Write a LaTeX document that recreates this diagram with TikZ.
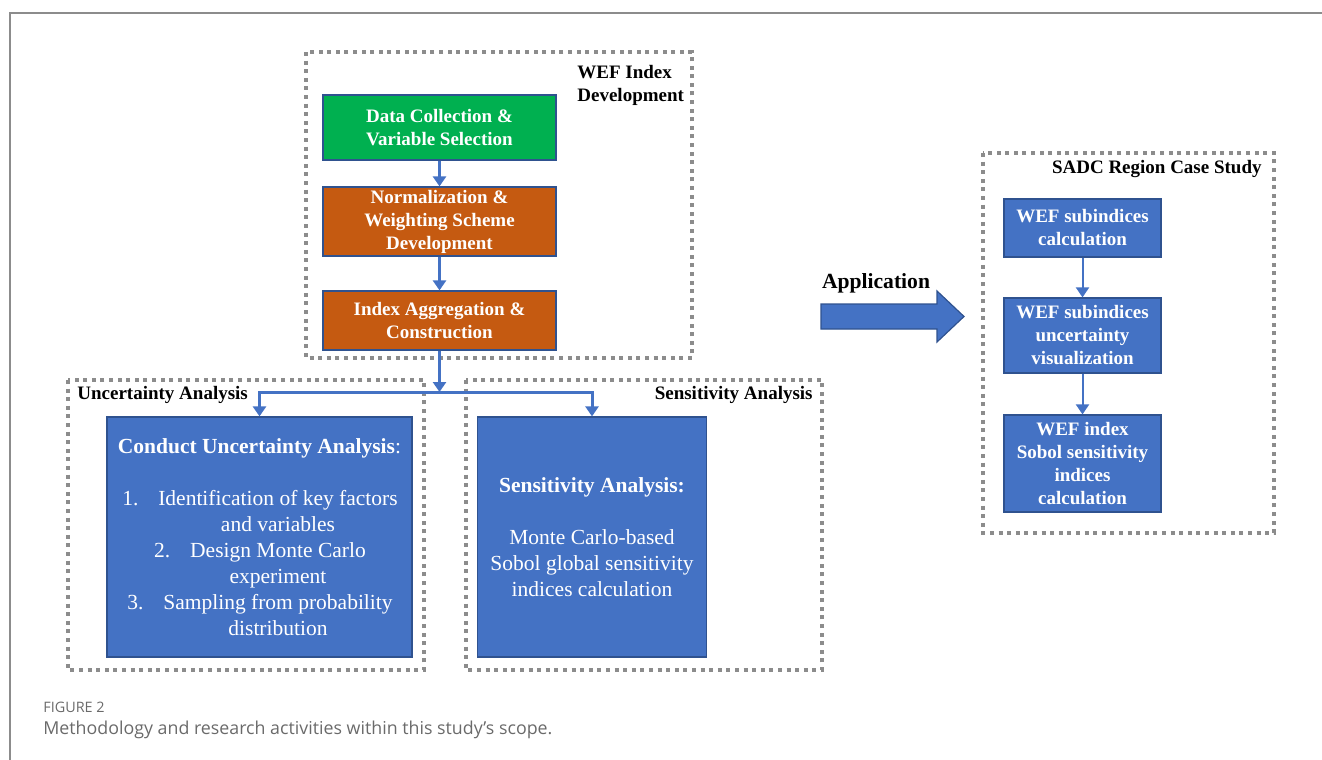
\documentclass[tikz,border=0pt]{standalone}
\usepackage{fontspec}
\setmainfont{Liberation Serif}
\newfontfamily\captionfont{Open Sans}
\usetikzlibrary{arrows.meta,positioning}

\definecolor{boxblue}{HTML}{4472C4}
\definecolor{boxgreen}{HTML}{00B050}
\definecolor{boxorange}{HTML}{C55A11}
\definecolor{edgeblue}{HTML}{2F528F}
\definecolor{dotgray}{HTML}{8C8C8C}
\definecolor{capgray}{HTML}{6A6A6A}

% numbered line with the number hanging to the left
\newcommand{\numitem}[1]{\hspace*{18.5pt}\llap{\makebox[18pt][l]{#1}}}
\newcommand{\numcont}{\hspace*{18.5pt}}

\tikzset{
  stepbox/.style={draw=edgeblue, line width=0.6pt, text=white, inner sep=0pt,
    align=center, font=\fontsize{9.5}{11.5}\selectfont\bfseries},
  groupbox/.style={draw=dotgray, line width=1.7pt, dash pattern=on 2pt off 2.3pt},
  grouptitle/.style={inner sep=0pt, font=\fontsize{9.5}{11.5}\selectfont\bfseries},
  flow/.style={draw=boxblue, line width=1.5pt, -{Triangle[width=6.5pt,length=5pt]}}
}

\begin{document}
\begin{tikzpicture}[x=0.5pt, y=-0.5pt]
  \useasboundingbox (0,0) rectangle (1322,760);

  % Page frame
  \draw[gray!90, line width=1pt] (10,760) -- (10,13) -- (1322,13);

  % WEF index development
  \draw[groupbox] (306,52) rectangle (692,358);
  \node[grouptitle, anchor=west, align=left] (weftitle) at (577,85.5) {WEF Index\\Development};
  \node[stepbox, fill=boxgreen, minimum width=116.5pt, minimum height=32.5pt] (data) at (439.5,127.5)
    {Data Collection \&\\Variable Selection};
  \node[stepbox, fill=boxorange, minimum width=116.5pt, minimum height=34.5pt] (norm) at (439.5,221.5)
    {Normalization \&\\Weighting Scheme\\Development};
  \node[stepbox, fill=boxorange, minimum width=116.5pt, minimum height=29.5pt] (agg) at (439.5,320.5)
    {Index Aggregation \&\\Construction};
  \draw[flow] (data) -- (norm);
  \draw[flow] (norm) -- (agg);

  % Uncertainty and sensitivity analysis
  \draw[groupbox] (68,380) rectangle (424,670);
  \draw[groupbox] (466,380) rectangle (822,670);
  \node[grouptitle, anchor=west] (unctitle) at (77,395) {Uncertainty Analysis};
  \node[grouptitle, anchor=east] (senstitle) at (813,395) {Sensitivity Analysis};
  \node[stepbox, fill=boxblue, minimum width=152.5pt, minimum height=120pt,
    font=\fontsize{10.75}{13}\selectfont] (unc) at (259.5,537)
    {\textbf{Conduct Uncertainty Analysis}:\\[13pt]
     \numitem{1.}Identification of key factors\\
     \numcont and variables\\
     \numitem{2.}Design Monte Carlo\\
     \numcont experiment\\
     \numitem{3.}Sampling from probability\\
     \numcont distribution};
  \node[stepbox, fill=boxblue, minimum width=114.5pt, minimum height=120pt,
    font=\fontsize{10.75}{13}\selectfont] (sens) at (592,537)
    {\textbf{Sensitivity Analysis:}\\[13pt]
     Monte Carlo-based\\Sobol global sensitivity\\indices calculation};
  \coordinate (split) at (439.5,392);
  \draw[flow] (agg) -- (split);
  \draw[flow] (split) -| (unc.north);
  \draw[flow] (split) -| (sens.north);

  % Application arrow
  \node[font=\fontsize{10.8}{13}\selectfont\bfseries] (app) at (876,283) {Application};
  \draw[fill=boxblue, draw=edgeblue, line width=0.6pt]
    (821,304) -- (937,304) -- (937,291) -- (964,316.5) -- (937,342) -- (937,329) -- (821,329) -- cycle;

  % SADC region case study
  \draw[groupbox] (983,153) rectangle (1274,533);
  \node[grouptitle, anchor=east] (sadctitle) at (1262,169) {SADC Region Case Study};
  \node[stepbox, fill=boxblue, minimum width=78.5pt, minimum height=29pt] (sub) at (1082.5,228)
    {WEF subindices\\calculation};
  \node[stepbox, fill=boxblue, minimum width=78.5pt, minimum height=37.5pt] (vis) at (1082.5,335.5)
    {WEF subindices\\uncertainty\\visualization};
  \node[stepbox, fill=boxblue, minimum width=78.5pt, minimum height=48.5pt] (sobol) at (1082.5,463.5)
    {WEF index\\Sobol sensitivity\\indices\\calculation};
  \foreach \a/\b in {sub/vis, vis/sobol}
    \draw[flow, line width=1pt] (\a) -- (\b);

  % Caption
  \node[anchor=west, inner sep=0pt, text=capgray, font=\captionfont\fontsize{7.2}{8}\selectfont] (fignum) at (43,707) {FIGURE 2};
  \node[anchor=west, inner sep=0pt, text=capgray, font=\captionfont\fontsize{8.9}{10}\selectfont] (figcap) at (43,730)
    {Methodology and research activities within this study’s scope.};
\end{tikzpicture}
\end{document}
